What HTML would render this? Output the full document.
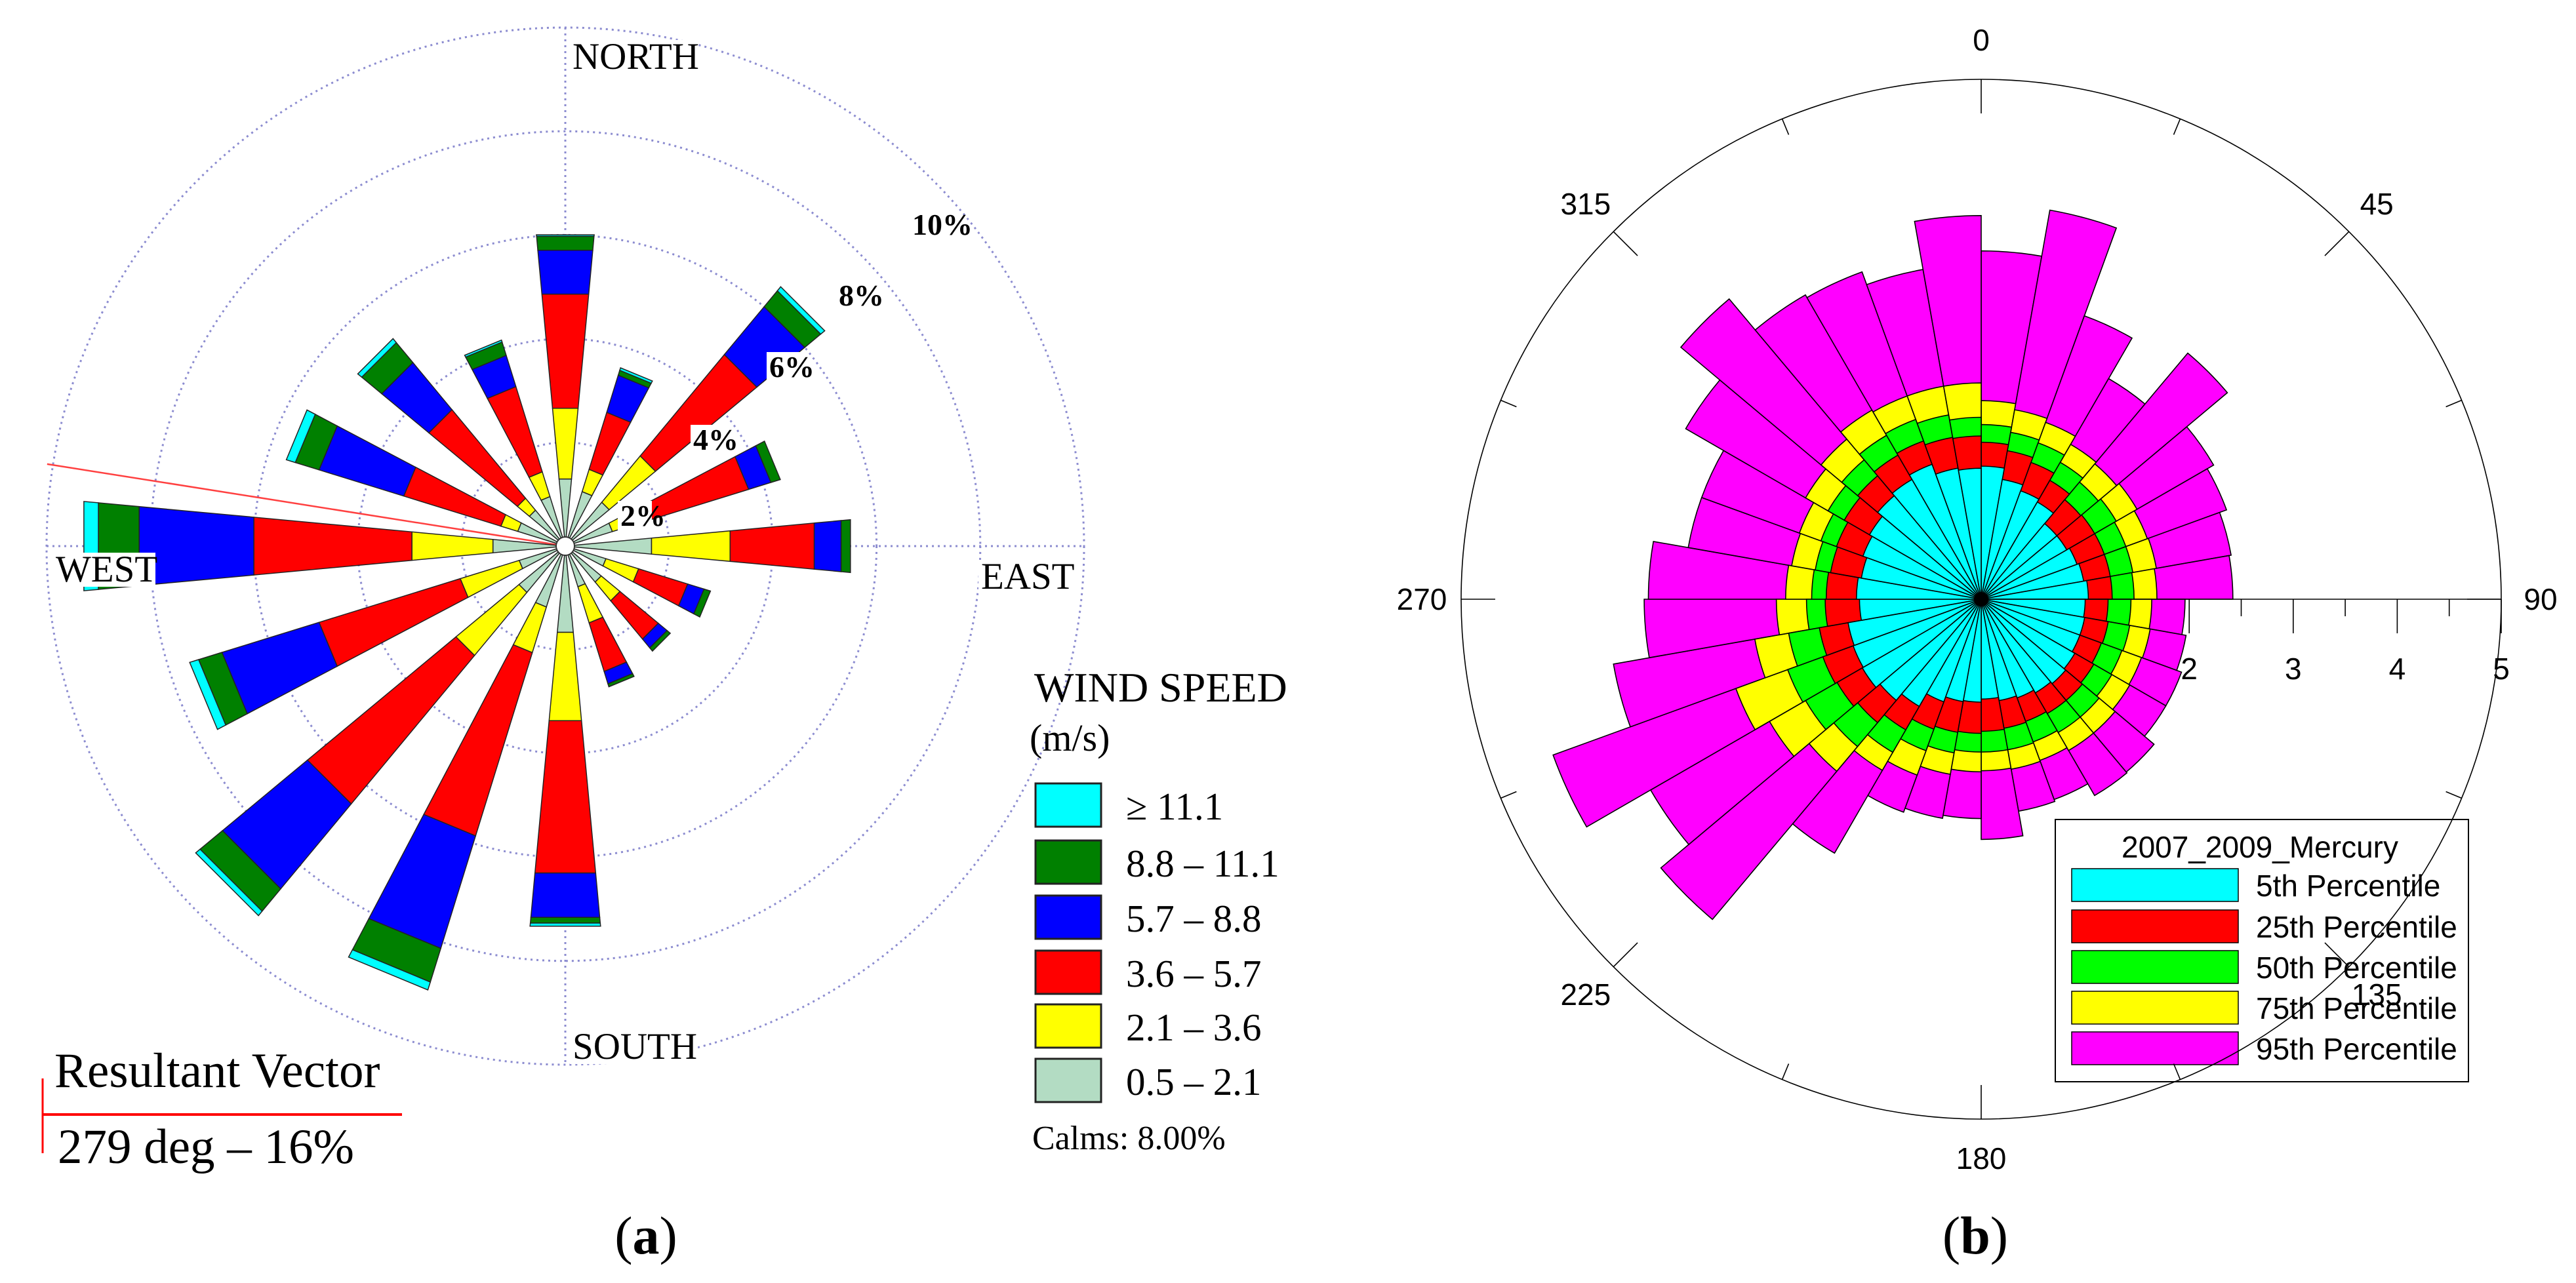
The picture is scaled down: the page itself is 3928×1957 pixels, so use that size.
<!DOCTYPE html>
<html><head><meta charset="utf-8"><style>
html,body{margin:0;padding:0;background:#fff;}
svg{display:block;}
.tm{font-family:"Liberation Serif",serif;}
.ar{font-family:"Liberation Sans",sans-serif;}
</style></head><body>
<svg id="fig" width="3928" height="1957" viewBox="0 0 3928 1957" xmlns="http://www.w3.org/2000/svg">
<rect width="3928" height="1957" fill="#fff"/>
<g id="roseA"></g>
<g id="roseB"></g>
</svg>
<script>
// ===== Chart (a) data: segment lengths (% frequency) per 16 directions =====
const dirAngles = [0,22.5,45,67.5,90,112.5,135,157.5,180,202.5,225,247.5,270,292.5,315,337.5];
const spd05_21 = [1.3,1.1,1.1,0.95,1.67,0.82,0.9,0.82,1.67,1.23,1.16,0.93,1.4,0.96,0.9,1.0];
const spd21_36 = [1.37,0.45,1.16,0.65,1.52,0.66,0.47,0.73,1.71,0.92,1.58,1.19,1.57,0.34,0.3,0.5];
const spd36_57 = [2.21,1.15,2.54,2.1,1.63,0.99,0.96,0.98,2.95,3.7,3.72,2.85,3.06,1.96,2.22,1.72];
const spd57_88 = [0.85,0.75,1.2,0.45,0.52,0.33,0.22,0.25,0.86,2.27,2.13,1.96,2.22,1.71,1.18,0.63];
const spd88_111 = [0.27,0.1,0.4,0.19,0.18,0.13,0.08,0.06,0.11,0.68,0.56,0.47,0.79,0.48,0.5,0.27];
const spd111 = [0.03,0.05,0.1,0,0,0,0,0,0.06,0.16,0.11,0.18,0.28,0.18,0.1,0.04];
const ringPcts = [2,4,6,8,10];
const ringLabels = ["2%","4%","6%","8%","10%"];
const legendLabelsA = ["\u2265 11.1","8.8 \u2013 11.1","5.7 \u2013 8.8","3.6 \u2013 5.7","2.1 \u2013 3.6","0.5 \u2013 2.1"];
const resultantDeg = 279;

// ===== Chart (b) data: cumulative percentile radii per 36 sectors (10 deg each) =====
const p5  = [1.28,1.17,1.11,1.08,0.95,0.95,0.98,1.00,1.03,1.00,1.01,1.01,1.04,1.06,1.04,1.01,0.99,0.96,0.99,1.00,1.05,1.19,1.27,1.32,1.31,1.30,1.17,1.20,1.17,1.21,1.24,1.30,1.33,1.38,1.28,1.26];
const p25 = [1.51,1.45,1.40,1.32,1.25,1.26,1.26,1.26,1.26,1.22,1.24,1.23,1.25,1.27,1.27,1.25,1.26,1.27,1.29,1.30,1.33,1.45,1.55,1.60,1.62,1.58,1.50,1.49,1.47,1.48,1.52,1.55,1.60,1.62,1.58,1.57];
const p50 = [1.68,1.63,1.60,1.52,1.47,1.50,1.48,1.48,1.47,1.44,1.45,1.44,1.45,1.48,1.48,1.46,1.47,1.47,1.47,1.50,1.55,1.70,1.85,1.95,1.98,1.88,1.68,1.63,1.62,1.64,1.70,1.75,1.82,1.84,1.80,1.75];
const p75 = [1.91,1.85,1.81,1.72,1.70,1.73,1.70,1.71,1.69,1.64,1.65,1.64,1.65,1.68,1.68,1.65,1.66,1.65,1.66,1.71,1.80,1.90,2.16,2.35,2.51,2.21,1.97,1.88,1.85,1.86,1.95,2.01,2.10,2.08,2.08,2.08];
const p95 = [3.35,3.80,2.90,2.45,3.09,2.58,2.51,2.44,2.42,1.96,2.00,2.05,2.05,2.17,2.18,2.05,2.07,2.31,2.11,2.14,2.18,2.82,4.02,3.67,4.38,3.59,3.24,3.20,2.86,2.86,3.28,3.77,3.38,3.35,3.22,3.69];
const compassTicks = [0,45,90,135,180,225,270,315];
const compassLabels = ["0","45","90","135","180","225","270","315"];
const radialTicks = [2,3,4,5];
const radialMinor = [2.5,3.5,4.5];
const legendLabelsB = ["5th Percentile","25th Percentile","50th Percentile","75th Percentile","95th Percentile"];

const NS="http://www.w3.org/2000/svg";
function mk(tag,attrs,parent){const e=document.createElementNS(NS,tag);for(const k in attrs)e.setAttribute(k,attrs[k]);parent.appendChild(e);return e;}
function txt(parent,x,y,s,cls,size,extra){const t=mk('text',Object.assign({x:x,y:y,'class':cls,'font-size':size},extra||{}),parent);t.textContent=s;return t;}

// ---------- Chart A ----------
const A=document.getElementById('roseA');
const ax=862, ay=833, pxPerPct=79.1;
function rA(p){return p*pxPerPct;}
function ptA(r,deg){const a=deg*Math.PI/180;return [ax+r*Math.sin(a), ay-r*Math.cos(a)];}
const gridG=mk('g',{},A);


ringPcts.forEach(p=>{
  const c=mk('circle',{cx:ax,cy:ay,r:rA(p),fill:'none',stroke:'#8c8cd0','stroke-width':3,'stroke-dasharray':'3 6'},gridG);
  
  
});
const outerR=rA(10);
const vl=mk('line',{x1:ax,y1:ay-outerR,x2:ax,y2:ay+outerR,stroke:'#8c8cd0','stroke-width':3,'stroke-dasharray':'3 6'},gridG);


const hl=mk('line',{x1:ax-outerR,y1:ay,x2:ax+outerR,y2:ay,stroke:'#8c8cd0','stroke-width':3,'stroke-dasharray':'3 6'},gridG);


const rv=ptA(800,resultantDeg);
const rl=mk('line',{x1:ax,y1:ay,x2:rv[0],y2:rv[1],stroke:'#ff4040','stroke-width':2.5},A);


const classesA=[spd05_21,spd21_36,spd36_57,spd57_88,spd88_111,spd111];
const colorsA=['#b3dcc3','#ffff00','#ff0000','#0000ff','#008000','#00ffff'];
const namesA=['0.5-2.1','2.1-3.6','3.6-5.7','5.7-8.8','8.8-11.1','ge-11.1'];
const hw=5.3;
dirAngles.forEach((d,i)=>{
  let cum=0;
  const g=mk('g',{},A);
  
  
  classesA.forEach((arr,k)=>{
    const v=arr[i]; if(v<=0) return;
    const r0=rA(cum), r1=rA(cum+v); cum+=v;
    const p1=ptA(r0,d-hw),p2=ptA(r1,d-hw),p3=ptA(r1,d+hw),p4=ptA(r0,d+hw);
    const pg=mk('polygon',{points:[p1,p2,p3,p4].map(p=>p[0].toFixed(1)+','+p[1].toFixed(1)).join(' '),fill:colorsA[k],stroke:'#222','stroke-width':1.5},g);
    
    
  });
});
const cc=mk('circle',{cx:ax,cy:ay,r:14,fill:'#fff',stroke:'#333','stroke-width':2},A);


const pctPos=[[946,802],[1057,686],[1173,575],[1279,466],[1391,358]];
ringLabels.forEach((s,i)=>{
  const w=s.length*23+6;
  const bg=mk('rect',{x:pctPos[i][0]-4,y:pctPos[i][1]-38,width:w,height:46,fill:'#fff'},A);
  
  
  const t=txt(A,pctPos[i][0],pctPos[i][1],s,'tm',46,{'font-weight':'bold'});
  
  
});
[['NORTH',873,105],['WEST',85,887],['EAST',1496,898],['SOUTH',873,1615]].forEach(a=>{
  const w=a[0].length*39;
  const bg=mk('rect',{x:a[1]-4,y:a[2]-44,width:w,height:52,fill:'#fff'},A);
  
  
  const t=txt(A,a[1],a[2],a[0],'tm',57);
  
  
});
let t;
t=txt(A,1577,1070,'WIND SPEED','tm',64);


t=txt(A,1570,1145,'(m/s)','tm',58);


const legColsA=['#00ffff','#008000','#0000ff','#ff0000','#ffff00','#b3dcc3'];
const legTops=[1195,1282,1366,1450,1532,1615];
legendLabelsA.forEach((s,i)=>{
  const r=mk('rect',{x:1579,y:legTops[i],width:100,height:66,fill:legColsA[i],stroke:'#222','stroke-width':3},A);
  
  
  const tt=txt(A,1717,legTops[i]+55,s,'tm',59);
  
  
});
t=txt(A,1574,1753,'Calms: 8.00%','tm',52);


t=txt(A,83,1658,'Resultant Vector','tm',75);


t=txt(A,88,1774,'279 deg \u2013 16%','tm',75);


let ln=mk('line',{x1:65,y1:1700,x2:613,y2:1700,stroke:'#ff0000','stroke-width':4},A);


ln=mk('line',{x1:65,y1:1645,x2:65,y2:1759,stroke:'#ff0000','stroke-width':3},A);


t=txt(A,985,1912,'(a)','tm',82,{'text-anchor':'middle'});


A.lastChild.innerHTML='(<tspan font-weight="bold">a</tspan>)';

// ---------- Chart B ----------
const B=document.getElementById('roseB');
const bx=3021, by=914, unit=158.6, circR=793;
function rB(v){return v*unit;}
function ptB(r,deg){const a=deg*Math.PI/180;return [bx+r*Math.sin(a), by-r*Math.cos(a)];}
function wedge(r,a0,a1){const p0=ptB(r,a0),p1=ptB(r,a1);return 'M'+bx+','+by+' L'+p0[0].toFixed(1)+','+p0[1].toFixed(1)+' A'+r.toFixed(1)+','+r.toFixed(1)+' 0 0 1 '+p1[0].toFixed(1)+','+p1[1].toFixed(1)+' Z';}
const lg=mk('g',{},B);


const lr=mk('rect',{x:3134,y:1250,width:630,height:400,fill:'#fff',stroke:'#000','stroke-width':2},lg);


t=txt(lg,3446,1308,'2007_2009_Mercury','ar',46,{'text-anchor':'middle'});


const colsB=['#00ffff','#ff0000','#00ff00','#ffff00','#ff00ff'];
const legTopsB=[1325,1388,1450,1512,1574];
legendLabelsB.forEach((s,i)=>{
  const r=mk('rect',{x:3159,y:legTopsB[i],width:254,height:50,fill:colsB[i],stroke:'#000','stroke-width':1.5},lg);
  
  
  const tt=txt(lg,3440,legTopsB[i]+42,s,'ar',46);
  
  
});
const series=[p95,p75,p50,p25,p5];
const colsSeries=['#ff00ff','#ffff00','#00ff00','#ff0000','#00ffff'];
const namesB=['p95','p75','p50','p25','p5'];
const secG=mk('g',{},B);


series.forEach((arr,k)=>{
  arr.forEach((v,i)=>{
    const p=mk('path',{d:wedge(rB(v),i*10,i*10+10),fill:colsSeries[k],stroke:'#000','stroke-width':1.6,'stroke-linejoin':'miter'},secG);
    
    
  });
});
const dot=mk('circle',{cx:bx,cy:by,r:11,fill:'#000'},B);


const oc=mk('circle',{cx:bx,cy:by,r:circR,fill:'none',stroke:'#000','stroke-width':1.6},B);


compassTicks.forEach((d,i)=>{
  const a=ptB(circR,d),b=ptB(circR-52,d);
  const l=mk('line',{x1:a[0],y1:a[1],x2:b[0],y2:b[1],stroke:'#000','stroke-width':1.6},B);
  
  
  const c=ptB(circR,d+22.5),e=ptB(circR-26,d+22.5);
  const m=mk('line',{x1:c[0],y1:c[1],x2:e[0],y2:e[1],stroke:'#000','stroke-width':1.6},B);
  
  
  const lp=ptB(853,d);
  const tt=txt(B,lp[0],lp[1]+16,compassLabels[i],'ar',46,{'text-anchor':'middle'});
  
  
});
const axl=mk('line',{x1:bx,y1:by,x2:bx+circR,y2:by,stroke:'#000','stroke-width':1.6},B);


radialTicks.forEach(v=>{
  const x=bx+rB(v);
  const l=mk('line',{x1:x,y1:by,x2:x,y2:by+52,stroke:'#000','stroke-width':1.6},B);
  
  
  const tt=txt(B,x,by+122,String(v),'ar',46,{'text-anchor':'middle'});
  
  
});
radialMinor.forEach(v=>{
  const x=bx+rB(v);
  const l=mk('line',{x1:x,y1:by,x2:x,y2:by+26,stroke:'#000','stroke-width':1.6},B);
  
  
});
t=txt(B,3012,1912,'(b)','tm',82,{'text-anchor':'middle'});


B.lastChild.innerHTML='(<tspan font-weight="bold">b</tspan>)';
</script>
</body></html>
